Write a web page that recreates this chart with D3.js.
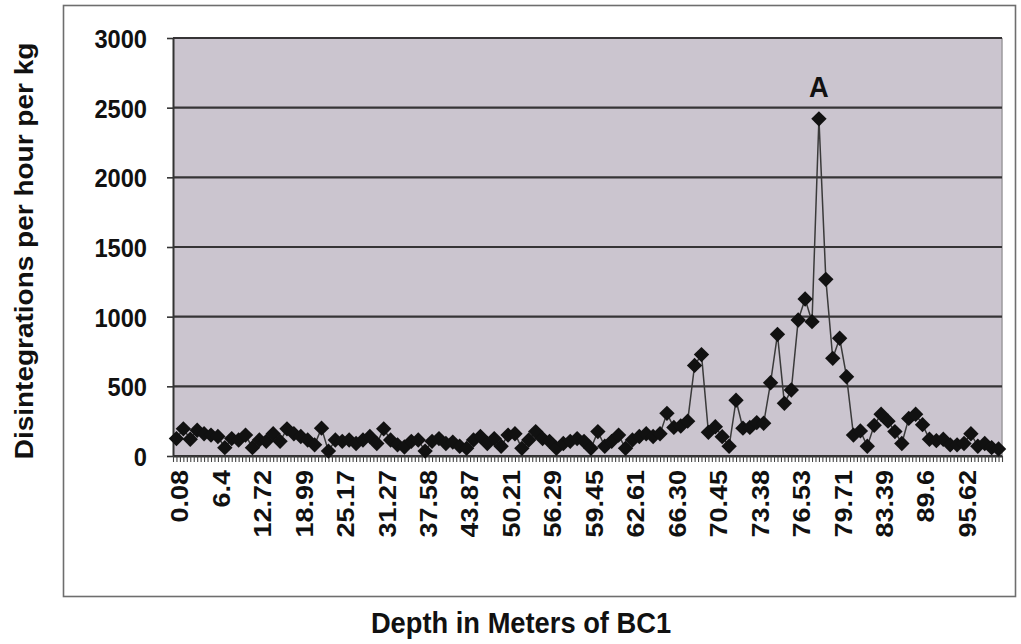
<!DOCTYPE html>
<html>
<head>
<meta charset="utf-8">
<script src="https://cdn.jsdelivr.net/npm/d3@7"></script>
<style>
  html, body { margin: 0; padding: 0; background: #fff; }
  svg { display: block; font-family: "Liberation Sans", Arial, Helvetica, sans-serif; font-weight: bold; }
</style>
</head>
<body>
<svg id="chart" width="1021" height="644"></svg>
<script>
// Depth labels shown along the category axis (one every `labelEvery` samples)
const depthLabels = ["0.08", "6.4", "12.72", "18.99", "25.17", "31.27", "37.58", "43.87", "50.21", "56.29",
                     "59.45", "62.61", "66.30", "70.45", "73.38", "76.53", "79.71", "83.39", "89.6", "95.62"];
const labelEvery = 6;

// Disintegrations per hour per kg, one value per core sample
const activity = [
  125, 195, 120, 185, 160, 150, 140,  60, 125, 115,
  150,  60, 115, 105, 160, 105, 195, 160, 140, 115,
   80, 200,  35, 115, 105, 115,  90, 115, 140,  90,
  195, 115,  80,  65, 105, 115,  35, 105, 125,  90,
  100,  70,  55, 115, 140,  90, 125,  70, 150, 160,
   55, 115, 175, 125, 105,  55,  90, 105, 125, 105,
   55, 175,  70, 105, 150,  55, 115, 140, 160, 140,
  160, 306, 205, 215, 250, 650, 728, 170, 210, 139,
   70, 400, 200, 205, 240, 235, 526, 873, 378, 474,
  976, 1127, 964, 2420, 1268, 701, 845, 569, 150, 180,
   70, 220, 300, 250, 175,  90, 270, 300, 225, 120,
  110, 120,  80,  80,  90, 160,  70,  90,  60,  50
];

const yTickValues = [0, 500, 1000, 1500, 2000, 2500, 3000];
const peakMarker = "A";
const yTitle = "Disintegrations per hour per kg";
const xTitle = "Depth in Meters of BC1";

// ---- layout ----
const plot = { left: 173, right: 1002, top: 38, bottom: 456 };
const squish = 0.91; // lettering is set slightly condensed
const svg = d3.select("#chart");

// outer frame
svg.append("rect")
  .attr("x", 63.5).attr("y", 5.5)
  .attr("width", 952).attr("height", 591)
  .attr("fill", "#fff")
  .attr("stroke", "#6e6e6e").attr("stroke-width", 1.6);

// scales
const idx = d3.range(activity.length);
const x = d3.scaleBand().domain(idx).range([plot.left, plot.right]).padding(0);
const xEdge = d3.scaleLinear().domain([0, activity.length]).range([plot.left, plot.right]);
const y = d3.scaleLinear().domain([0, 3000]).range([plot.bottom, plot.top]);
const cx = i => x(i) + x.bandwidth() / 2;

// plot area
svg.append("rect")
  .attr("x", plot.left).attr("y", plot.top)
  .attr("width", plot.right - plot.left).attr("height", plot.bottom - plot.top)
  .attr("fill", "#cbc5cf");

svg.append("line")
  .attr("x1", plot.right).attr("x2", plot.right)
  .attr("y1", plot.top).attr("y2", plot.bottom)
  .attr("stroke", "#9c9a9e").attr("stroke-width", 1.5);

// horizontal gridlines
svg.append("g")
  .selectAll("line")
  .data(yTickValues)
  .join("line")
  .attr("x1", plot.left).attr("x2", plot.right)
  .attr("y1", d => y(d)).attr("y2", d => y(d))
  .attr("stroke", "#363436").attr("stroke-width", 2.2);

// y axis
const yAxis = svg.append("g")
  .attr("transform", `translate(${plot.left},0)`)
  .call(d3.axisLeft(y).tickValues(yTickValues).tickFormat(d3.format("d"))
    .tickSize(6).tickSizeOuter(0));
yAxis.select(".domain").attr("stroke", "#333").attr("stroke-width", 2);
yAxis.selectAll(".tick line").attr("stroke", "#333").attr("stroke-width", 1.6);
yAxis.selectAll(".tick text")
  .attr("x", null).attr("dy", "0.36em")
  .attr("transform", `translate(-26,0) scale(${squish},1)`)
  .attr("fill", "#111")
  .style("font-size", "26px").style("font-family", null).style("font-weight", "bold");

// x axis tick marks (at sample boundaries and midpoints)
const xTicks = svg.append("g")
  .attr("transform", `translate(0,${plot.bottom})`)
  .call(d3.axisBottom(xEdge)
    .tickValues(d3.range(0, activity.length + 0.25, 0.5))
    .tickFormat("").tickSize(6).tickSizeOuter(0));
xTicks.select(".domain").attr("stroke", "#333").attr("stroke-width", 2);
xTicks.selectAll(".tick line").attr("stroke", "#444").attr("stroke-width", 1.1);

// x axis depth labels
const xLabels = svg.append("g")
  .attr("transform", `translate(0,${plot.bottom})`)
  .call(d3.axisBottom(x)
    .tickValues(idx.filter(i => i % labelEvery === 0))
    .tickFormat(i => depthLabels[i / labelEvery])
    .tickSize(0).tickSizeOuter(0));
xLabels.select(".domain").remove();
xLabels.selectAll(".tick text")
  .attr("x", null).attr("y", null).attr("dy", "0.36em")
  .attr("text-anchor", "end")
  .attr("transform", `translate(3,14) scale(${squish},1) rotate(-90)`)
  .attr("fill", "#111")
  .style("font-size", "27px").style("font-family", null).style("font-weight", "bold");

// series line
svg.append("path")
  .datum(activity)
  .attr("fill", "none")
  .attr("stroke", "#3a3a3a").attr("stroke-width", 1.5)
  .attr("d", d3.line().x((d, i) => cx(i)).y(d => y(d)));

// diamond markers
const diamond = d3.symbol().type(d3.symbolSquare).size(118);
svg.append("g")
  .selectAll("path")
  .data(activity)
  .join("path")
  .attr("d", diamond)
  .attr("transform", (d, i) => `translate(${cx(i)},${y(d)}) rotate(45)`)
  .attr("fill", "#111");

// peak annotation
const peakIdx = activity.indexOf(d3.max(activity));
svg.append("text")
  .attr("transform", `translate(${cx(peakIdx)},${y(activity[peakIdx]) - 22}) scale(${squish},1)`)
  .attr("text-anchor", "middle")
  .attr("fill", "#111")
  .style("font-size", "30px")
  .text(peakMarker);

// axis titles
svg.append("text")
  .attr("transform", `translate(24,251) scale(${squish},1) rotate(-90)`)
  .attr("text-anchor", "middle").attr("dy", "0.36em")
  .attr("fill", "#111")
  .style("font-size", "28px")
  .text(yTitle);

svg.append("text")
  .attr("transform", `translate(521,633) scale(${squish},1)`)
  .attr("text-anchor", "middle")
  .attr("fill", "#111")
  .style("font-size", "30px")
  .text(xTitle);
</script>
</body>
</html>
